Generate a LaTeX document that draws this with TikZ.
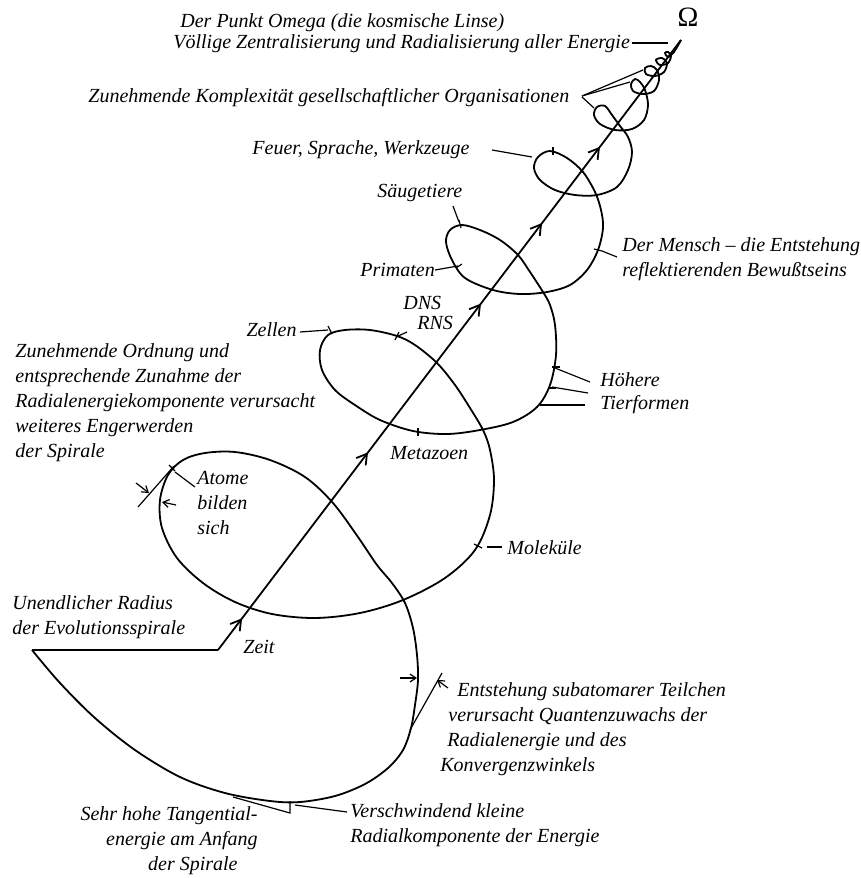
\documentclass[tikz,border=0pt]{standalone}
\usepackage{fontspec}
\setmainfont{Liberation Serif}
\usetikzlibrary{arrows.meta, decorations.markings}

\begin{document}
\begin{tikzpicture}[x=0.5pt, y=-0.5pt,
    every node/.style={font=\fontsize{10}{12.5}\selectfont\itshape, inner sep=0pt},
    lbl/.style={anchor=west, align=left},
    ptr/.style={line width=0.6pt},
    spiral/.style={line width=0.9pt},
    tip/.style={-{Straight Barb[length=3pt, width=4pt]}, line width=0.6pt},
    axis/.style={line width=0.9pt, postaction={decorate}, decoration={markings,
        mark=at position 0.052 with {\arrow{Straight Barb[length=5pt, width=6pt]}},
        mark=at position 0.324 with {\arrow{Straight Barb[length=5pt, width=6pt]}},
        mark=at position 0.568 with {\arrow{Straight Barb[length=5pt, width=6pt]}},
        mark=at position 0.700 with {\arrow{Straight Barb[length=5pt, width=6pt]}},
        mark=at position 0.825 with {\arrow{Straight Barb[length=5pt, width=6pt]}}}}]
    \useasboundingbox (0,0) rectangle (861,878);

    % Zeitachse
    \coordinate (zeit0) at (218,650);
    \coordinate (omega) at (681,40);
    \coordinate (radius0) at (32,650);
    \draw[axis] (zeit0) -- (omega);
    \draw[spiral] (radius0) -- (zeit0);
    \node[font=\fontsize{14}{14}\selectfont\upshape] (omegasym) at (688,17) {Ω};

    % Spirale
    \draw[spiral] plot[smooth, tension=0.55] coordinates {
        (32,650) (60,683) (95,718) (135,750) (180,777) (225,793) (270,801) (300,802)
        (335,796) (365,784) (388,768) (403,750) (411,728) (415,705) (418,680) (417,655)
        (413,628) (405,603) (392,583) (377,565) (358,537) (333,503) (305,477) (270,460)
        (235,452) (205,453) (183,460) (168,475) (160,500) (162,528) (177,558) (203,583)
        (235,602) (272,614) (315,618) (360,613) (403,600) (445,578) (475,550) (490,515)
        (494,480) (490,450) (483,430) (470,408) (455,385) (437,363) (415,345) (397,336)
        (370,330) (345,330) (328,335) (320,350) (322,370) (335,390) (355,405) (380,420)
        (413,431) (447,434) (480,430) (513,422) (537,407) (550,385) (556,355) (555,325)
        (550,305) (543,292) (530,272) (518,255) (500,240) (480,230) (462,225) (450,230)
        (446,242) (452,260) (465,278) (493,290) (520,294) (547,292) (570,285) (587,270)
        (598,250) (603,228) (601,210) (595,192) (583,172) (567,158) (550,151) (538,157)
        (534,168) (540,180) (555,190) (575,195) (597,195) (617,187) (628,170) (632,152)
        (628,137) (620,126) (612,115) (605,106) (597,107) (594,115) (600,124) (615,130)
        (632,129) (644,120) (648,105) (645,90) (640,82) (635,79) (631,84) (633,91)
        (643,94) (654,91) (659,80) (657,70) (651,66) (645,68) (646,74) (655,76)
        (664,72) (667,63) (662,58) (656,60) (660,65) (668,63) (671,56) (668,52)
        (665,53) (668,57) (674,52) (681,40)};

    % Markierungen auf der Spirale
    \foreach \ax/\ay/\bx/\by in {328/326/332/334, 395/340/399/332, 459/220/461/228,
        456/268/462/264, 594/249/602/251, 552/367/560/367, 548/388/556/388,
        474/544/482/548, 169/465/175/471, 553/147/553/155, 418/428/418/436}
        \draw[ptr] (\ax,\ay) -- (\bx,\by);

    % Beschriftungen oben
    \node[lbl] (punkt) at (180,23) {Der Punkt Omega (die kosmische Linse)};
    \node[lbl] (zentral) at (173,44) {Völlige Zentralisierung und Radialisierung aller Energie};
    \node[lbl] (komplex) at (88,98) {Zunehmende Komplexität gesellschaftlicher Organisationen};
    \node[lbl] (feuer) at (252,150) {Feuer, Sprache, Werkzeuge};
    \node[lbl] (saeuge) at (377,193) {Säugetiere};
    \node[lbl] (mensch) at (622,259) {Der Mensch – die Entstehung\\reflektierenden Bewußtseins};
    \node[lbl] (primaten) at (360,270) {Primaten};
    \node[lbl] (dns) at (403,303) {DNS};
    \node[lbl] (rns) at (417,323) {RNS};
    \node[anchor=east] (zellen) at (297,330) {Zellen};
    \node[lbl] (ordnung) at (15,403) {Zunehmende Ordnung und\\entsprechende Zunahme der\\Radialenergiekomponente verursacht\\weiteres Engerwerden\\der Spirale};
    \node[lbl] (hoehere) at (600,380) {Höhere};
    \node[lbl] (tierformen) at (600,405) {Tierformen};
    \node[lbl] (metazoen) at (390,453) {Metazoen};
    \node[lbl] (atome) at (197,503) {Atome\\bilden\\sich};
    \node[lbl] (molekuele) at (507,548) {Moleküle};

    % Beschriftungen unten
    \node[lbl] (unendlich) at (12,617) {Unendlicher Radius\\der Evolutionsspirale};
    \node[lbl] (zeit) at (243,647) {Zeit};
    \node[anchor=north west, align=left] (entstehung) at (440,682)
        {\hspace*{8.5pt}Entstehung subatomarer Teilchen\\\hspace*{4pt}verursacht Quantenzuwachs der\\\hspace*{3.5pt}Radialenergie und des\\Konvergenzwinkels};
    \node[lbl] (verschw) at (350,825) {Verschwindend kleine\\Radialkomponente der Energie};
    \node[anchor=north east, align=right] (tangential) at (258,806)
        {Sehr hohe Tangential-\\energie am Anfang\hspace*{5pt}\\der Spirale\hspace*{10pt}};

    % Hinweislinien
    \draw[ptr] (632,43) -- (668,43);
    \draw[ptr] (582,96) -- (643,70);
    \draw[ptr] (582,96) -- (630,82);
    \draw[ptr] (582,97) -- (594,108);
    \draw[ptr] (492,150) -- (532,157);
    \draw[ptr] (453,206) -- (459,222);
    \draw[ptr] (602,251) -- (617,257);
    \draw[ptr] (435,270) -- (458,266);
    \draw[ptr] (407,332) -- (396,337);
    \draw[ptr] (300,332) -- (328,330);
    \draw[ptr] (555,368) -- (590,382);
    \draw[ptr] (552,387) -- (588,393);
    \draw[ptr] (540,405) -- (585,405);
    \draw[ptr] (175,472) -- (195,487);
    \draw[ptr] (487,547) -- (502,547);
    \draw[ptr] (295,805) -- (347,812);

    % Tangenten und Winkel
    \draw[ptr] (138,507) -- (174,466);
    \draw[tip] (136,483) -- (149,493);
    \draw[tip] (176,505) -- (162,502);
    \draw[ptr] (410,730) -- (442,673);
    \draw[tip] (448,688) -- (437,680);
    \draw[tip] (400,678) -- (417,678);
    \draw[ptr] (233,797) -- (290,813) -- (290,801);
\end{tikzpicture}
\end{document}
